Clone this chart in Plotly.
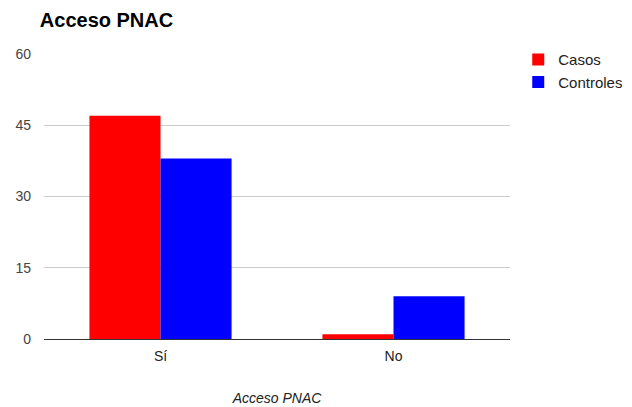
import plotly.graph_objects as go

categories = ["Sí", "No"]
casos = [47, 1]
controles = [38, 9]
y_ticks = [0, 15, 30, 45, 60]

FONT = "Arial, Liberation Sans, sans-serif"

fig = go.Figure()
fig.add_trace(go.Bar(name="Casos", x=categories, y=casos, marker=dict(color="#ff0000", line=dict(width=0))))
fig.add_trace(go.Bar(name="Controles", x=categories, y=controles, marker=dict(color="#0000ff", line=dict(width=0))))

fig.update_layout(
    width=632, height=407,
    margin=dict(l=44, r=122, t=54, b=68),
    paper_bgcolor="white", plot_bgcolor="white",
    barmode="group", bargap=0.39, bargroupgap=0.0,
    font=dict(family=FONT, color="#444444", size=13),
    title=dict(text="<b>Acceso PNAC</b>", x=0.063, xref="container", xanchor="left",
               y=0.95, yref="container", yanchor="middle",
               font=dict(family=FONT, size=20, color="#000000")),
    legend=dict(xref="container", yref="container", x=0.82, xanchor="left", y=0.894, yanchor="top",
                font=dict(family=FONT, size=15, color="#222222"),
                itemwidth=30, tracegroupgap=4),
    xaxis=dict(title=dict(text="<i>Acceso PNAC</i>", font=dict(family=FONT, size=14, color="#222222"), standoff=30),
               automargin=False,
               showline=True, linecolor="#333333", linewidth=1, ticks="", ticklabelstandoff=4,
               tickfont=dict(family=FONT, size=14, color="#222222")),
    yaxis=dict(range=[0, 60], tickvals=y_ticks, showgrid=True, gridcolor="#cccccc",
               automargin=False,
               zeroline=False, ticks="", ticklabelstandoff=12,
               tickfont=dict(family=FONT, size=14, color="#444444")),
)

fig.write_html("out.html")
